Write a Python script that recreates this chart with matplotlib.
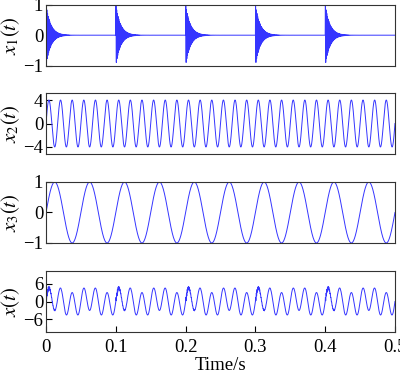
import numpy as np
import matplotlib.pyplot as plt

plt.rcParams['font.family'] = ['Liberation Serif', 'DejaVu Serif']
plt.rcParams['mathtext.fontset'] = 'stix'

# signal parameters
fs = 20000
duration = 0.5
impulse_times = [0.0, 0.1, 0.2, 0.3, 0.4]
impulse_amp = 1.0
impulse_freq = 1000
impulse_decay = 150
x2_amp, x2_freq = 4, 60
x3_amp, x3_freq = 1, 20

t = np.arange(0, duration + 1 / fs, 1 / fs)
x1 = np.zeros_like(t)
for t0 in impulse_times:
    tau = t - t0
    m = tau >= 0
    x1[m] += impulse_amp * np.exp(-impulse_decay * tau[m]) * np.sin(2 * np.pi * impulse_freq * tau[m])
x2 = x2_amp * np.sin(2 * np.pi * x2_freq * t)
x3 = x3_amp * np.sin(2 * np.pi * x3_freq * t)
x = x1 + x2 + x3

signals = [x1, x2, x3, x]
labels = [r'$x_1(t)$', r'$x_2(t)$', r'$x_3(t)$', r'$x(t)$']
ylims = [(-1, 1), (-5.2, 5.2), (-1, 1), (-10.2, 10.2)]
yticks = [[-1, 0, 1], [-4, 0, 4], [-1, 0, 1], [-6, 0, 6]]
xticks = [0, 0.1, 0.2, 0.3, 0.4, 0.5]

fig = plt.figure(figsize=(4, 3.72), dpi=100)
bottoms = [0.8234, 0.586, 0.3468, 0.1075]
for i in range(4):
    ax = fig.add_axes([0.115, bottoms[i], 0.8725, 0.164])
    ax.plot(t, signals[i], color='#3535ff', lw=0.7)
    ax.set_xlim(0, 0.5)
    ax.set_ylim(*ylims[i])
    ax.set_yticks(yticks[i])
    ax.set_yticklabels([str(v).replace('-', '\u2212') for v in yticks[i]])
    ax.set_ylabel(labels[i], fontsize=15, labelpad=1)
    ax.tick_params(direction='in', labelsize=13.5, length=4, width=0.8, pad=2)
    for s in ax.spines.values():
        s.set_color('#333333')
        s.set_linewidth(0.8)
    if i < 3:
        ax.set_xticks([])
    else:
        ax.set_xticks(xticks)
        ax.set_xticklabels(['0', '0.1', '0.2', '0.3', '0.4', '0.5'])
        ax.tick_params(axis='x', pad=5)
        ax.set_xlabel('Time/s', fontsize=13.5, labelpad=1)

fig.savefig('out.png', dpi=100)
